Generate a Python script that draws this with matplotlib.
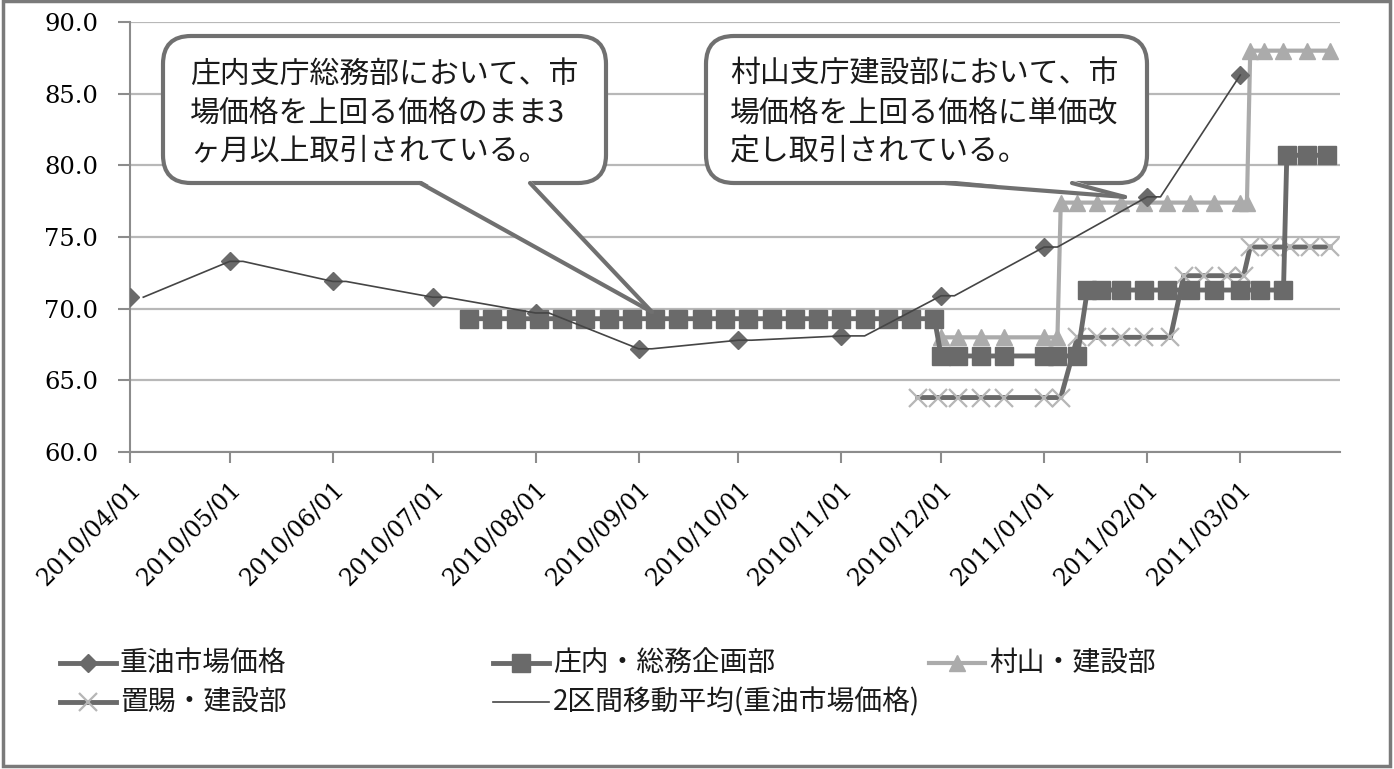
import matplotlib
matplotlib.use('Agg')
import matplotlib.pyplot as plt
import matplotlib.transforms as mtransforms
from matplotlib.patches import FancyBboxPatch, Polygon, Rectangle
from matplotlib.lines import Line2D
import pandas as pd

plt.rcParams['font.family'] = ['Noto Sans CJK JP', 'DejaVu Sans']

# 重油市場価格 (monthly)
mkt_dates = ['2010-04-01', '2010-05-01', '2010-06-01', '2010-07-01', '2010-08-01', '2010-09-01',
             '2010-10-01', '2010-11-01', '2010-12-01', '2011-01-01', '2011-02-01', '2011-03-01']
mkt_values = [70.8, 73.3, 71.9, 70.8, 69.7, 67.2, 67.8, 68.1, 70.9, 74.3, 77.8, 86.3]

# 2区間移動平均 line as drawn in the chart
ma_dates = ['2010-04-05', '2010-05-01', '2010-05-05', '2010-06-01', '2010-06-05', '2010-07-01',
            '2010-07-05', '2010-08-01', '2010-08-05', '2010-09-01', '2010-09-05', '2010-10-01',
            '2010-10-05', '2010-11-01', '2010-11-08', '2010-12-01', '2010-12-05', '2011-01-01',
            '2011-01-05', '2011-02-01', '2011-02-05', '2011-03-01']
ma_values = [70.8, 73.3, 73.3, 71.9, 71.9, 70.8, 70.8, 69.7, 69.7, 67.2, 67.2, 67.8,
             67.8, 68.1, 68.1, 70.9, 70.9, 74.3, 74.3, 77.8, 77.8, 86.3]

# 庄内・総務企画部
sq_dates = ['2010-07-12', '2010-07-19', '2010-07-26', '2010-08-02', '2010-08-09', '2010-08-16',
            '2010-08-23', '2010-08-30', '2010-09-06', '2010-09-13', '2010-09-20', '2010-09-27',
            '2010-10-04', '2010-10-11', '2010-10-18', '2010-10-25', '2010-11-01', '2010-11-08',
            '2010-11-15', '2010-11-22', '2010-11-29',
            '2010-12-01', '2010-12-06', '2010-12-13', '2010-12-20', '2011-01-01', '2011-01-05',
            '2011-01-11',
            '2011-01-14', '2011-01-18', '2011-01-24', '2011-01-31', '2011-02-07', '2011-02-14',
            '2011-02-21', '2011-03-01', '2011-03-07', '2011-03-14',
            '2011-03-15', '2011-03-21', '2011-03-27']
sq_values = [69.3] * 21 + [66.7] * 7 + [71.3] * 10 + [80.7] * 3

# 村山・建設部
tri_dates = ['2010-12-01', '2010-12-06', '2010-12-13', '2010-12-20', '2011-01-01', '2011-01-05',
             '2011-01-06', '2011-01-11', '2011-01-17', '2011-01-24', '2011-01-31', '2011-02-07',
             '2011-02-14', '2011-02-21', '2011-03-01', '2011-03-03',
             '2011-03-04', '2011-03-08', '2011-03-14', '2011-03-21', '2011-03-28']
tri_values = [68.0] * 6 + [77.4] * 10 + [88.0] * 5

# 置賜・建設部
x_dates = ['2010-11-24', '2010-11-30', '2010-12-06', '2010-12-13', '2010-12-20', '2011-01-01',
           '2011-01-06',
           '2011-01-11', '2011-01-17', '2011-01-24', '2011-01-31', '2011-02-08',
           '2011-02-12', '2011-02-18', '2011-02-25', '2011-03-02',
           '2011-03-04', '2011-03-10', '2011-03-16', '2011-03-22', '2011-03-28']
x_values = [63.8] * 7 + [68.0] * 5 + [72.3] * 4 + [74.3] * 5

month_ticks = ['2010/04/01', '2010/05/01', '2010/06/01', '2010/07/01', '2010/08/01', '2010/09/01',
               '2010/10/01', '2010/11/01', '2010/12/01', '2011/01/01', '2011/02/01', '2011/03/01']
y_ticks = [60, 65, 70, 75, 80, 85, 90]

labels = ['重油市場価格', '庄内・総務企画部', '村山・建設部', '置賜・建設部', '2区間移動平均(重油市場価格)']
notes = [['庄内支庁総務部において、市', '場価格を上回る価格のまま3', 'ヶ月以上取引されている。'],
         ['村山支庁建設部において、市', '場価格を上回る価格に単価改', '定し取引されている。']]

DARK = '#6a6a6a'
LIGHT = '#ababab'
XLIGHT = '#b6b6b6'
EDGE = '#707070'

W, H = 1394, 769
fig = plt.figure(figsize=(W / 100, H / 100), dpi=100)
# pixel coordinates, y downwards
px = mtransforms.Affine2D().scale(1 / W, -1 / H).translate(0, 1) + fig.transFigure

ax = fig.add_axes([130 / W, 1 - 452 / H, (1340 - 130) / W, (452 - 22) / H])

d = pd.to_datetime
ax.plot(d(tri_dates), tri_values, color=LIGHT, lw=3, marker='^', ms=12, zorder=2)
ax.plot(d(x_dates), x_values, color=DARK, lw=3.5, marker='x', ms=13, mew=1.6, mec=XLIGHT, zorder=3)
ax.plot(d(mkt_dates), mkt_values, ls='none', marker='D', ms=9, color=DARK, zorder=3.5)
ax.plot(d(sq_dates), sq_values, color=DARK, lw=3.5, marker='s', ms=13, zorder=4)
ax.plot(d(ma_dates), ma_values, color='#454545', lw=1.2, zorder=6)

ax.set_xlim(d('2010-04-01'), d('2011-03-31'))
ax.set_ylim(60, 90)
ax.set_yticks(y_ticks)
ax.set_yticklabels(['%.1f' % v for v in y_ticks], fontfamily='DejaVu Serif', fontsize=17.5)
ax.set_xticks(d(month_ticks))
ax.set_xticklabels(month_ticks, rotation=45, ha='right', rotation_mode='anchor',
                   fontfamily='DejaVu Serif', fontsize=17)
ax.tick_params(axis='x', length=8, width=1.5, color='#8c8c8c', pad=10)
ax.tick_params(axis='y', length=9, width=1.5, color='#8c8c8c', pad=14)
ax.grid(axis='y', color='#b8b8b8', lw=1.6)
ax.set_axisbelow(True)
for s in ['top', 'right']:
    ax.spines[s].set_visible(False)
for s in ['left', 'bottom']:
    ax.spines[s].set_color('#8c8c8c')
    ax.spines[s].set_linewidth(1.5)


def callout(x0, y0, x1, y1, base_l, base_r, tip, lines, tx):
    box = FancyBboxPatch((x0, y0), x1 - x0, y1 - y0, boxstyle='round,pad=0,rounding_size=28',
                         transform=px, fc='white', ec=EDGE, lw=3, zorder=10)
    fig.add_artist(box)
    tail = Polygon([(base_l, y1 - 3), (base_r, y1 - 3), tip], closed=True, transform=px,
                   fc='white', ec='none', zorder=11)
    fig.add_artist(tail)
    for bx in (base_l, base_r):
        fig.add_artist(Line2D([bx, tip[0]], [y1, tip[1]], transform=px, color=EDGE, lw=3,
                              solid_capstyle='round', zorder=12))
    for i, t in enumerate(lines):
        fig.text(tx, 74 + 39 * i, t, transform=px, fontsize=21.5, va='center', ha='left',
                 color='#1a1a1a', zorder=13)


callout(163, 36, 606, 183, 420, 530, (652, 312), notes[0], 190)
callout(706, 36, 1147, 183, 945, 1072, (1125, 197), notes[1], 730)

# legend
entries = [
    (60, 663, labels[0], dict(color=DARK, lw=3.5), dict(marker='D', ms=9, color=DARK)),
    (493, 663, labels[1], dict(color=DARK, lw=3.5), dict(marker='s', ms=13, color=DARK)),
    (929, 663, labels[2], dict(color=LIGHT, lw=3), dict(marker='^', ms=12, color=LIGHT)),
    (60, 702, labels[3], dict(color=DARK, lw=3.5), dict(marker='x', ms=13, mew=1.6, color=XLIGHT)),
    (493, 702, labels[4], dict(color='#454545', lw=1.2), None),
]
for x0, y0, lab, lkw, mkw in entries:
    fig.add_artist(Line2D([x0, x0 + 56], [y0, y0], transform=px, **lkw))
    if mkw:
        fig.add_artist(Line2D([x0 + 28], [y0], transform=px, ls='none', **mkw))
    fig.text(x0 + 60, y0, lab, transform=px, fontsize=20, va='center', ha='left', color='#1a1a1a')

fig.add_artist(Rectangle((3, 1), W - 7, H - 4, transform=px, fill=False, ec='#7a7a7a', lw=2.5))

fig.savefig('out.png', dpi=100)
